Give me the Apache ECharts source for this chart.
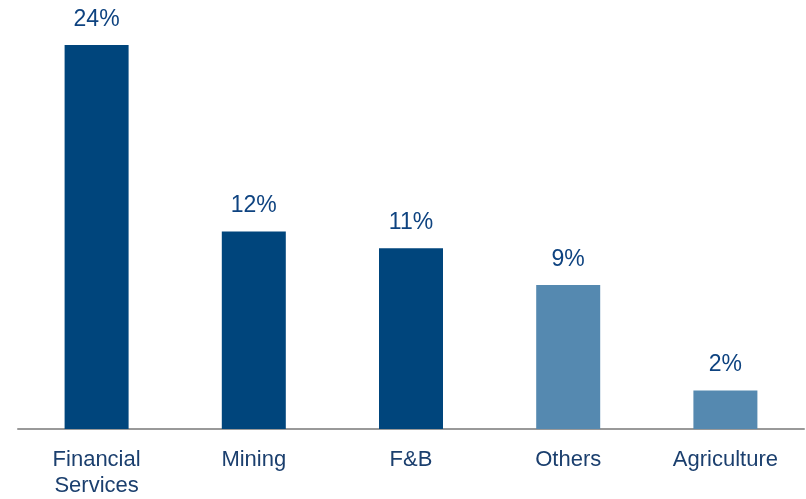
<!DOCTYPE html>
<html>
<head>
<meta charset="utf-8">
<script src="https://cdn.jsdelivr.net/npm/echarts@6/dist/echarts.min.js"></script>
<style>html,body{margin:0;padding:0;background:#fff}#c{width:806px;height:499px}</style>
</head>
<body>
<div id="c"></div>
<script>
const categories = ['Financial\nServices', 'Mining', 'F&B', 'Others', 'Agriculture'];
const values = [24, 12.35, 11.3, 9.0, 2.4];
const valueLabels = ['24%', '12%', '11%', '9%', '2%'];
const barColors = ['#00457C', '#00457C', '#00457C', '#5589B0', '#5589B0'];

const chart = echarts.init(document.getElementById('c'), null, {renderer: 'canvas'});
chart.setOption({
  animation: false,
  grid: {left: 18, right: 2, top: 45, bottom: 65},
  xAxis: {
    type: 'category',
    data: categories,
    axisLine: {lineStyle: {color: '#999999', width: 2}},
    axisTick: {show: false},
    axisLabel: {color: '#1B3F6E', fontFamily: 'Liberation Sans, Arial', fontSize: 22, margin: 18, lineHeight: 26, interval: 0}
  },
  yAxis: {type: 'value', min: 0, max: 24, show: false, splitLine: {show: false}},
  series: [{
    type: 'bar',
    barWidth: 64,
    data: values.map((v, i) => ({value: v, itemStyle: {color: barColors[i]}})),
    label: {
      show: true, position: 'top', distance: 14,
      color: '#0E4380', fontFamily: 'Liberation Sans, Arial', fontSize: 23,
      formatter: p => valueLabels[p.dataIndex]
    }
  }]
});
</script>
</body>
</html>
